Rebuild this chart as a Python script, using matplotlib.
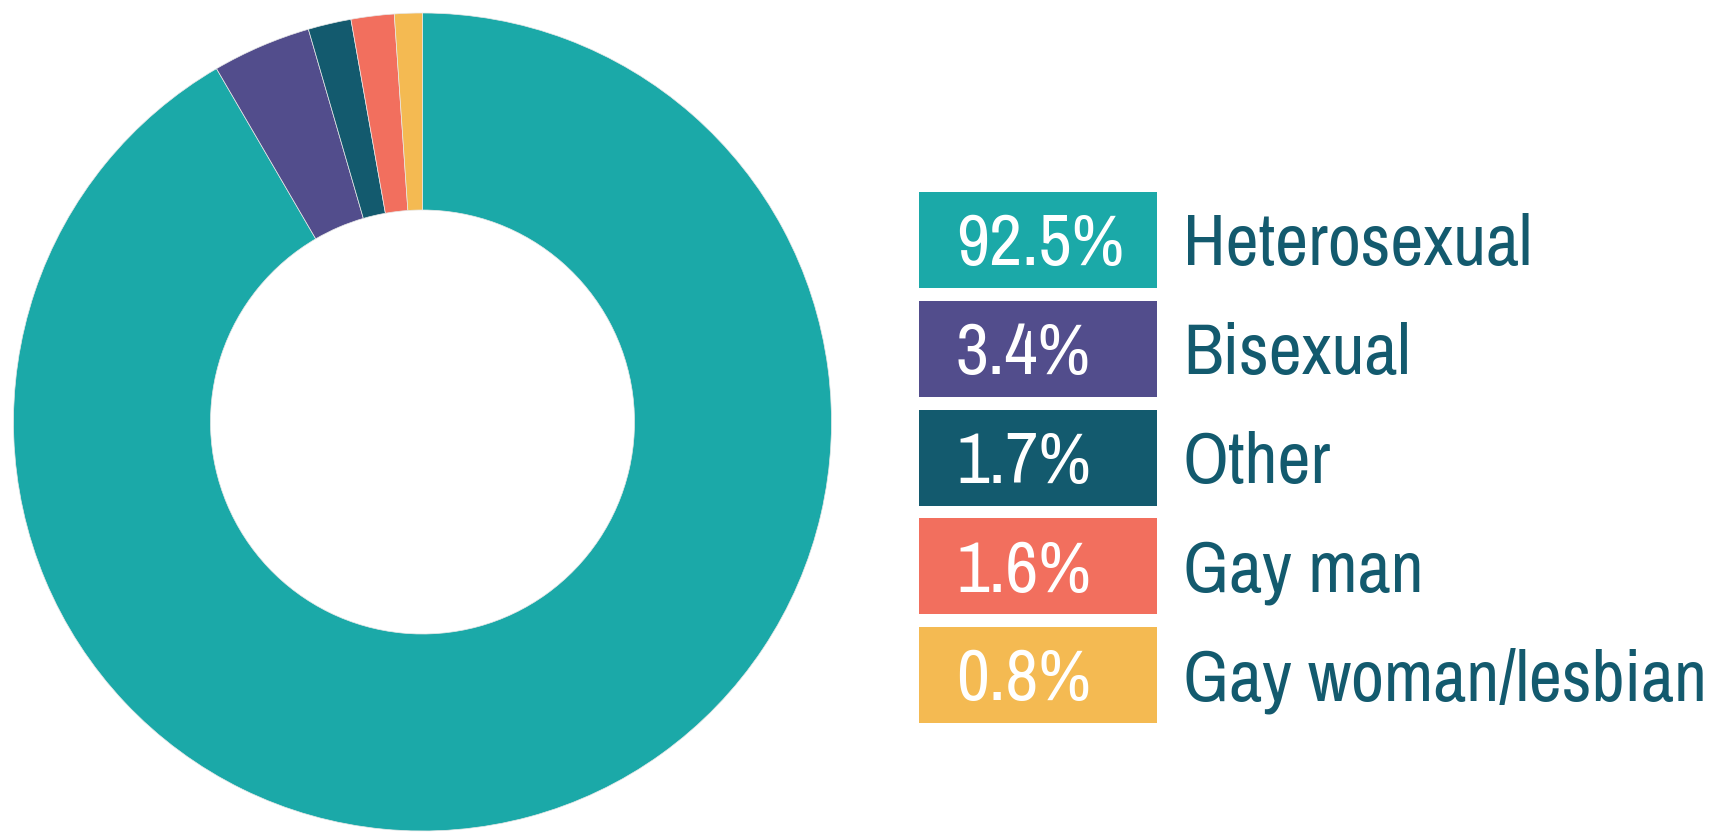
import matplotlib.pyplot as plt
from matplotlib.patches import Rectangle

categories = ["Heterosexual", "Bisexual", "Other", "Gay man", "Gay woman/lesbian"]
labels = ["92.5%", "3.4%", "1.7%", "1.6%", "0.8%"]
# arc sizes as drawn in the picture
arc_shares = [91.6, 3.9, 1.7, 1.7, 1.1]
colors = ["#1BA9A8", "#524D8C", "#135A6E", "#F26F5E", "#F4BA52"]
text_color = "#135A6E"

W, H = 1715, 834
fig = plt.figure(figsize=(W / 100, H / 100), dpi=100)
ax = fig.add_axes([0, 0, 1, 1])

# donut, clockwise from the top
outer_r = 409
inner_r = 212
ax.pie(arc_shares, colors=colors, startangle=90, counterclock=False,
       center=(422.5, H - 422), radius=outer_r,
       wedgeprops=dict(width=outer_r - inner_r, linewidth=0.5, edgecolor="#e8e8e8"))
ax.set_xlim(0, W)
ax.set_ylim(0, H)
ax.set_aspect("equal")
ax.axis("off")

# legend boxes on the right
box_x, box_w, box_h = 919, 238, 96
first_top, step = 192, 108.8
font = ["Archivo Narrow", "Liberation Sans", "DejaVu Sans"]
fs = 52
cap = 0.70 * fs * 100 / 72
for i, (cat, lab, col) in enumerate(zip(categories, labels, colors)):
    top = first_top + i * step
    ax.add_patch(Rectangle((box_x, H - top - box_h), box_w, box_h, color=col, lw=0))
    base = H - (top + box_h / 2) - cap / 2
    ax.text(956, base, lab, color="white", fontsize=fs, family=font, va="baseline", ha="left")
    ax.text(1183, base, cat, color=text_color, fontsize=fs, family=font, va="baseline", ha="left")

fig.savefig("out.png", dpi=100)
